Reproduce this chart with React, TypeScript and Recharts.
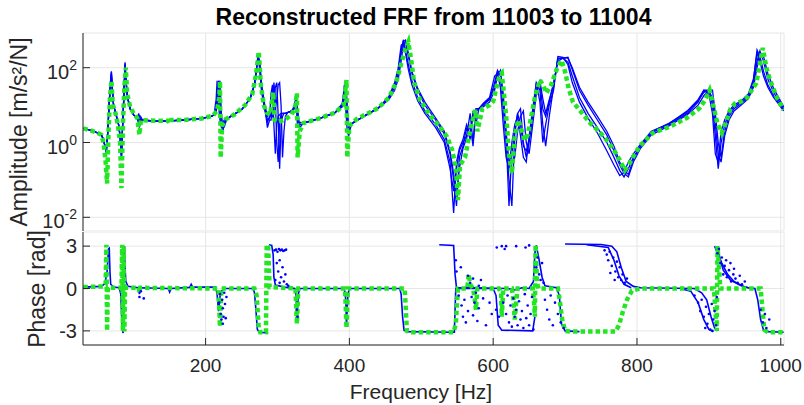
import React from "react";
import { CartesianGrid, ComposedChart, Line, Scatter, XAxis, YAxis } from "recharts";

const FONT = '"Liberation Sans", Arial, Helvetica, sans-serif';
const INK = "#262626";
const GRID = "#e6e6e6";
const BLUE = "#0000ff";
const GREEN = "#22e622";

// axes
const freqTicks = [200, 400, 600, 800, 1000];
const freqDomain = [29.5, 1004.5];
const ampTicks = [0.01, 1, 100];
const ampDomain = [0.0043, 848];
const phaseTicks = [-3, 0, 3];
const phaseDomain = [-4, 4];

// reconstructed FRF amplitude (green)
const freqGreen = [
  30, 40, 50, 55, 58, 61, 63, 65, 67, 69,
  71, 74, 78, 81, 83, 85, 87, 89, 91, 95,
  100, 105, 108, 110, 130, 148, 150, 152, 170, 195,
  210, 216, 219, 220, 221, 223, 228, 240, 255, 265,
  270, 274, 277, 281, 285, 290, 294, 296, 300, 310,
  320, 325, 327, 328, 331, 336, 360, 380, 392, 396,
  397, 400, 410, 440, 455, 465, 472, 478, 482, 486,
  490, 498, 512, 526, 536, 543, 548, 551, 554, 561,
  568, 575, 578, 585, 595, 600, 605, 609, 612, 615,
  619, 622, 626, 630, 635, 640, 644, 648, 652, 658,
  665, 670, 674, 680, 688, 692, 695, 700, 705, 711,
  723, 735, 747, 758, 768, 776, 783, 790, 797, 805,
  822, 845, 869, 887, 895, 901, 906, 912, 918, 925,
  930, 936, 945, 954, 961, 966, 970, 975, 980, 985,
  994, 1004,
];
const ampGreen = [
  2.4, 2.1, 1.8, 1.6, 1.0, 0.3, 0.08, 2, 16, 45,
  10, 7, 3, 1, 0.06, 3, 30, 100, 20, 9,
  6, 4.5, 1.6, 4, 3.8, 3.8, 3.2, 4, 4, 4.4,
  5.2, 7, 16, 43, 0.39, 2.8, 4.2, 5.6, 10, 20,
  63, 270, 32, 10, 6.3, 5.6, 22, 4, 3.5, 4,
  5.6, 10, 21, 0.4, 2, 3.3, 4.5, 6.3, 10, 47,
  0.4, 2.8, 4.2, 8.3, 16, 40, 126, 316, 490, 160,
  40, 14, 5.4, 2.6, 1.4, 0.63, 0.22, 0.029, 0.25, 0.41,
  2.1, 7.4, 2, 8, 10, 12.6, 32, 63, 72, 20,
  3.2, 0.5, 0.15, 1.6, 4, 2, 1.15, 1.6, 4, 16,
  47, 32, 21, 32, 87, 126, 158, 79, 28, 12,
  6.3, 3.3, 2, 1.15, 0.63, 0.34, 0.18, 0.28, 0.5, 0.85,
  1.8, 2.6, 4.5, 8.3, 14, 25, 10, 3.2, 1.8, 4,
  8, 11, 12.6, 16.6, 28, 39, 100, 340, 100, 47,
  16.6, 7.4,
];

// measured FRF amplitudes (blue)
const freqBlue = [
  30, 45, 55, 58, 60, 62, 64, 66, 68, 69,
  70, 72, 75, 79, 81, 83, 84, 86, 88, 89,
  91, 95, 100, 105, 107, 108, 110, 112, 130, 150,
  170, 195, 208, 212, 214, 216, 218, 220, 222, 224,
  226, 229, 235, 250, 262, 268, 271, 273, 275, 278,
  282, 286, 289, 291, 293, 295, 297, 299, 301, 303,
  305, 307, 309, 311, 314, 320, 324, 326, 328, 331,
  336, 360, 380, 390, 393, 395, 397, 399, 403, 420,
  440, 455, 463, 468, 472, 475, 478, 482, 487, 495,
  505, 520, 532, 540, 545, 549, 553, 558, 563, 568,
  572, 576, 580, 586, 595, 602, 606, 610, 614, 618,
  622, 626, 630, 634, 638, 642, 646, 650, 655, 660,
  665, 669, 673, 678, 684, 690, 697, 704, 710, 720,
  732, 745, 758, 768, 776, 782, 788, 795, 805, 820,
  845, 870, 885, 893, 900, 905, 909, 913, 917, 922,
  928, 935, 945, 955, 962, 967, 971, 976, 982, 990,
  1004,
];
const ampBlue1 = [
  2.4, 2.0, 1.6, 1.2, 0.8, 0.55, 2, 12, 50, 80,
  30, 10, 6, 3, 1.5, 0.4, 1.5, 12, 140, 60,
  18, 8, 5.5, 4.3, 5.5, 2.8, 4.5, 4, 3.7, 3.8,
  4, 4.4, 5, 5.5, 7, 20, 45, 8, 3, 2,
  3.5, 4.2, 5, 7.5, 15, 35, 100, 220, 120, 25,
  9, 3.5, 5, 20, 35, 3, 0.5, 3, 5, 5.5,
  6, 6, 6, 6, 6.3, 7, 9, 18, 3, 3,
  3.3, 4.5, 6.3, 10, 20, 40, 5, 2, 3.2, 5,
  8.3, 15, 30, 70, 250, 560, 300, 120, 45, 16,
  7, 3, 1.2, 0.3, 0.013, 0.3, 0.7, 1.2, 3, 1.5,
  6, 7, 8, 10, 14, 40, 85, 60, 8, 1,
  0.1, 0.02, 1.6, 6, 8, 1, 0.4, 1, 5, 40,
  25, 3, 0.8, 5, 30, 180, 180, 140, 60, 16,
  6, 2.5, 1, 0.4, 0.18, 0.12, 0.2, 0.4, 0.8, 1.8,
  3, 6, 12, 25, 25, 10, 1.5, 0.2, 1, 3,
  6, 9, 12, 18, 45, 300, 200, 80, 35, 18,
  7.5,
];
const ampBlue2 = [
  2.4, 2.0, 1.6, 1.2, 0.8, 0.6, 2, 12, 45, 70,
  35, 10, 6, 3, 1.5, 0.45, 1.5, 12, 120, 55,
  18, 8, 5.5, 4.3, 3.2, 5.5, 3.6, 4, 3.7, 3.8,
  4, 4.4, 5, 5.5, 8, 45, 10, 4, 2.5, 3.5,
  4, 4.3, 5, 7.5, 15, 35, 100, 200, 150, 30,
  10, 2.5, 4, 4, 8, 40, 15, 1, 0.3, 4,
  5.5, 6, 6, 6, 6.3, 7, 8, 12, 8, 2.5,
  3.3, 4.5, 6.3, 9, 35, 8, 2, 1.5, 3.2, 5,
  8.3, 17, 40, 100, 400, 450, 250, 90, 35, 13,
  6, 2.5, 1, 0.2, 0.05, 0.2, 0.6, 1, 1.5, 6,
  1, 8, 8, 9, 12, 25, 60, 85, 20, 2,
  0.3, 0.3, 0.4, 2, 5, 7, 1, 0.5, 3, 20,
  40, 8, 5, 12, 40, 150, 180, 190, 90, 25,
  10, 4, 1.6, 0.6, 0.25, 0.15, 0.12, 0.3, 0.7, 1.6,
  2.8, 5.5, 10, 18, 25, 25, 6, 1, 0.4, 2,
  5, 8, 11, 16, 35, 150, 280, 150, 50, 22,
  8,
];
const ampBlue3 = [
  2.4, 2.0, 1.6, 1.2, 0.8, 0.5, 2, 12, 40, 60,
  30, 10, 6, 3, 1.5, 0.35, 1.5, 12, 100, 50,
  18, 8, 5.5, 4.3, 6, 2.5, 4.8, 4, 3.7, 3.8,
  4, 4.4, 5, 5.5, 12, 12, 40, 15, 3, 2.2,
  3.2, 4.1, 5, 7.5, 15, 35, 100, 230, 100, 22,
  8, 4, 4.5, 6, 5, 8, 30, 40, 5, 0.2,
  3, 5, 6, 6, 6.3, 7, 10, 16, 2.5, 3.5,
  3.3, 4.5, 6.3, 10, 15, 45, 10, 2.5, 3.2, 5,
  8.3, 14, 25, 50, 150, 400, 500, 200, 70, 25,
  10, 4, 1.7, 0.5, 0.1, 0.02, 0.4, 0.8, 2.5, 1.2,
  7, 3, 8, 11, 16, 60, 70, 30, 3, 0.4,
  0.2, 1, 3, 5, 1.5, 0.4, 0.3, 1.5, 8, 40,
  12, 1, 3, 10, 25, 200, 190, 120, 40, 12,
  4.5, 1.8, 0.6, 0.25, 0.13, 0.16, 0.3, 0.5, 0.9, 2,
  3.2, 7, 14, 25, 20, 6, 0.5, 0.3, 2, 4,
  7, 10, 13, 20, 50, 250, 150, 60, 30, 16,
  7,
];
const ampBlue4 = [
  2.4, 2.0, 1.6, 1.2, 0.8, 0.7, 2, 12, 50, 75,
  32, 10, 6, 3, 1.5, 0.5, 1.5, 12, 130, 60,
  18, 8, 5.5, 4.3, 3.5, 5, 3.8, 4, 3.7, 3.8,
  4, 4.4, 5, 5.5, 6, 9, 25, 45, 6, 2.5,
  2.6, 4, 5, 7.5, 15, 35, 100, 180, 160, 35,
  11, 5, 5.5, 5, 5.5, 6, 8, 14, 35, 40,
  10, 0.4, 2, 5, 6.3, 7, 9, 20, 4, 3,
  3.3, 4.5, 6.3, 11, 25, 12, 3, 3, 3.2, 5,
  8.3, 16, 35, 80, 300, 500, 550, 250, 80, 28,
  12, 4.5, 2, 0.6, 0.15, 0.04, 0.2, 0.7, 1.3, 3,
  0.8, 7, 8, 10, 15, 30, 80, 70, 12, 1.5,
  0.02, 0.5, 2, 6, 3, 0.8, 0.6, 1.2, 6, 25,
  45, 15, 6, 14, 35, 170, 185, 180, 100, 30,
  12, 5, 2, 0.8, 0.3, 0.18, 0.14, 0.35, 0.8, 1.9,
  3.3, 6.5, 13, 22, 25, 15, 3, 0.5, 0.3, 1.5,
  4, 7, 10, 15, 30, 100, 250, 200, 70, 28,
  9,
];

// reconstructed phase (green)
const phaseGreenFreq = [
  30, 58, 61, 62, 63, 64, 83, 84, 85, 86,
  87, 88, 107, 108, 109, 218, 220, 222, 268, 271,
  274, 276, 284, 285, 287, 289, 325, 327, 329, 394,
  396, 398, 477, 480, 483, 545, 548, 551, 564, 566,
  568, 572, 574, 576, 578, 608, 611, 612, 614, 626,
  628, 630, 632, 634, 655, 657, 658, 659, 661, 663,
  690, 693, 696, 700, 707, 770, 775, 780, 786, 793,
  804, 907, 909, 911, 912, 914, 916, 972, 974, 977,
  982, 1004,
];
const phaseGreen = [
  0.1, 0.15, 0.3, 3.1, -3.0, 0.05, 0.05, 3.1, -3.0, 3.0,
  -3.05, 0.05, 0.05, -0.3, 0.05, 0, -2.7, 0, 0, -0.5,
  -2.8, -3.1, -3.1, 3.1, 3.0, 0.1, 0, -2.5, 0, 0,
  -2.8, 0, 0, -3.0, -3.1, -3.1, -2.5, 0, 0, 1.0,
  0.3, 0, -0.6, -1.5, 0, 0, -0.3, -2.0, 0, 0,
  -0.7, -2.2, -1.0, 0, 0, -1.0, -2.0, 3.1, 0.4, 0,
  0, -1.0, -2.2, -3.0, -3.05, -3.05, -2.6, -1.7, -0.8, -0.15,
  0, 0, -1.5, -3.0, 3.0, 1.5, 0, 0, -1.2, -2.9,
  -3.1, -3.1,
];

// measured phase (blue), dense tracks; null = wrap break
const phaseBlueAFreq = [
  30, 55, 60, 63, 65, 66, 67, 68, 72, 80,
  82, 84, 85, 86, 86.5, 87, 88, 89, 92, 106,
  108, 110, 148, 150, 152, 178, 180, 182, 214, 216,
  218, 220, 222, 226, 266, 268, 270, 272, 275, 287,
  287.5, 288, 292, 294, 295, 297, 310, 324, 326, 327,
  329, 331, 393, 395, 396, 398, 400, 470, 472, 474,
  476, 480, 546, 547, 548, 575, 600, 604, 607, 612,
  655, 658,
];
const phaseBlueA = [
  0.1, 0.15, 0.35, 1.2, 2.8, 2.85, 1.2, 0.3, 0.1, 0.05,
  -0.4, -2.8, -3.1, -3.15, null, 3.0, 1.5, 0.5, 0.15, 0.05,
  -0.4, 0.05, 0, -0.25, 0, 0.08, 0.3, 0.1, 0.1, -0.4,
  -1.6, -0.6, -0.2, 0, 0, -0.3, -1.5, -2.9, -3.1, -3.15,
  null, 3.1, 3.05, 2.4, 0.8, 0.25, 0.1, 0, -0.5, -2.3,
  -0.4, 0, 0, -0.8, -2.6, -0.4, 0, 0, -0.4, -2.0,
  -2.95, -3.05, -3.1, -1.5, 0, 0, 0, -0.5, -2.6, -2.95,
  -3.0, -2.0,
];
const phaseBlueBFreq = [
  525, 545, 547, 549, 580, 600, 620, 630, 640, 650,
  656, 658, 660, 664, 668, 672, 688, 692, 695, 700,
  720,
];
const phaseBlueB = [
  3.1, 3.05, 1.0, 0.05, 0.05, 0.02, 0, -0.1, 0.05, 0,
  0.5, 2.5, 3.05, 2.0, 0.8, 0.2, 0.05, -0.5, -2.5, -3.0,
  -3.05,
];
const phaseBlueCFreq = [
  730, 760, 768, 775, 782, 792, 800, 860, 875, 885,
  893, 900, 906, 906.5, 908, 912, 918, 926, 935, 950,
  960,
];
const phaseBlueC = [
  3.1, 2.9, 2.0, 0.9, 0.3, 0.05, null, 0, -0.2, -1.0,
  -2.2, -2.9, -3.05, null, 3.0, 2.5, 1.8, 1.0, 0.5, 0.1,
  0,
];
const phaseBlueDFreq = [
  700, 750, 765, 772, 778, 785, 795, 805, 880, 890,
  897, 903, 908, 912, 912.5, 913, 915, 920, 930, 945,
  955, 964, 968, 972, 976, 982, 1004,
];
const phaseBlueD = [
  3.15, 3.12, 3.0, 2.6, 1.5, 0.5, 0.15, 0.05, 0, -0.3,
  -0.8, -2.0, -2.8, -3.0, null, 3.0, 2.2, 1.3, 0.6, 0.2,
  0.05, 0, -0.8, -2.2, -2.95, -3.05, -3.1,
];

// scattered phase samples (blue dots)
const noiseFreq = [
  219, 221, 222, 223, 224, 225, 226, 227, 228, 229, 224, 220,
  296, 298, 300, 302, 304, 306, 308, 310, 312, 299, 301, 303, 305, 307, 309, 311, 313, 315, 297, 303,
  327, 328, 108, 110, 114,
  548, 549, 552, 556, 558, 560, 562, 565, 568, 570, 572, 574, 576, 578, 580, 583, 586, 590, 555, 565, 572, 580, 595, 598,
  604, 608, 612, 614, 616, 618, 620, 622, 624, 626, 628, 630, 632, 634, 636, 638, 640, 642, 644, 646, 648, 650, 652, 654, 656,
  660, 662, 664, 666, 668, 670, 672, 675, 678, 680, 683, 686, 690, 694, 698, 605, 618, 632, 645, 650,
  755, 758, 760, 762, 765, 767, 770, 772, 774, 776, 778, 780, 783, 786, 763, 769,
  880, 885, 888, 890, 893, 896, 898, 900, 902, 904, 906, 908, 910, 911, 895, 905,
  912, 914, 916, 918, 920, 922, 925, 928, 931, 934, 937, 940, 943, 946, 950, 924, 930, 935,
  972, 975, 978, 980, 984,
];
const noisePhase = [
  -1.0, -1.8, -2.2, -0.8, -1.4, -2.0, -0.3, -1.1, -2.1, -0.6, -2.5, -0.4,
  2.7, 2.75, 2.6, 2.8, 2.7, 2.75, 2.65, 2.7, 2.75, 1.8, 1.2, 2.0, 0.8, 1.5, 0.5, 1.0, 0.3, 0.2, 0.6, 0.4,
  -1.5, -2.0, -0.6, -0.2, -0.7,
  2.0, 1.2, -0.5, -1.2, -2.0, -0.8, -2.4, -1.6, 0.4, -0.6, -1.9, -1.0, -0.3, -2.3, -1.4, 0.6, -0.7, -2.6, 1.5, 0.9, 0.7, 0.2, -1.0, -1.8,
  -1.5, -2.0, 3.0, -1.0, 2.8, -1.8, -0.5, -2.4, -1.2, -2.7, -0.7, -2.0, -1.5, -2.6, -0.9, -2.2, -1.6, -2.8, -0.4, -2.1, -1.2, -2.6, -1.8, -0.6, -2.9,
  1.5, 2.2, 1.0, 0.6, 1.8, 0.4, -0.8, -1.5, -2.2, -0.5, -2.6, -1.0, -1.8, -2.4, -2.8, 2.9, 3.0, 3.0, 2.9, 3.05,
  2.7, 2.4, 2.0, 2.6, 1.6, 2.2, 1.2, 1.9, 0.8, 1.5, 0.6, 1.0, 0.4, 0.7, 1.1, 0.6,
  -0.5, -1.0, -1.6, -0.8, -2.0, -1.3, -2.5, -1.8, -2.9, -1.1, -2.2, -1.6, -2.6, -0.6, -2.8, -3.0,
  2.5, 2.8, 1.8, 2.2, 1.0, 1.6, 0.8, 1.3, 0.5, 1.0, 0.7, 0.4, 0.9, 0.3, 0.5, 2.0, 1.8, 1.4,
  -1.5, -2.4, -1.8, -2.8, -2.2,
];

const pts = (fs: number[], vs: (number | null)[]) => fs.map((f, i) => ({ f, v: vs[i] }));

const blueAmpSeries = [ampBlue1, ampBlue2, ampBlue3, ampBlue4].map((a) => pts(freqBlue, a));
const greenAmp = pts(freqGreen, ampGreen);
const bluePhaseSeries = [
  pts(phaseBlueAFreq, phaseBlueA),
  pts(phaseBlueBFreq, phaseBlueB),
  pts(phaseBlueCFreq, phaseBlueC),
  pts(phaseBlueDFreq, phaseBlueD),
];
const greenPhase = pts(phaseGreenFreq, phaseGreen);
const noise = pts(noiseFreq, noisePhase);

function PowTick({ x, y, payload }: any) {
  const exp = Math.round(Math.log10(payload.value));
  return (
    <text x={x} y={y + 11} textAnchor="end" fill={INK} fontSize={20}>
      10
      <tspan dy={-9} fontSize={14}>
        {exp}
      </tspan>
    </text>
  );
}

const NoTick = () => <g />;

const dotShape = (p: any) => <circle cx={p.cx} cy={p.cy} r={1.3} fill={BLUE} />;

const axisLine = { stroke: INK, strokeWidth: 1 };

export default function App() {
  return (
    <div
      style={{
        position: "absolute",
        left: 0,
        top: 0,
        width: 804,
        height: 405,
        background: "#fff",
        fontFamily: FONT,
      }}
    >
      <div style={{ position: "absolute", left: 0, top: 0 }}>
        <ComposedChart width={804} height={232} margin={{ top: 33, right: 20, bottom: 1, left: 13 }}>
          <CartesianGrid stroke={GRID} />
          <XAxis
            type="number"
            dataKey="f"
            domain={freqDomain}
            ticks={freqTicks}
            height={0}
            tickSize={-7}
            tick={NoTick}
            axisLine={axisLine}
            tickLine={axisLine}
            allowDataOverflow
          />
          <XAxis
            xAxisId="top"
            orientation="top"
            type="number"
            dataKey="f"
            domain={freqDomain}
            ticks={freqTicks}
            height={0}
            tickSize={-7}
            tick={NoTick}
            axisLine={axisLine}
            tickLine={axisLine}
            allowDataOverflow
          />
          <YAxis
            scale="log"
            type="number"
            dataKey="v"
            domain={ampDomain}
            ticks={ampTicks}
            width={70}
            tickSize={-7}
            tickMargin={13}
            tick={PowTick}
            axisLine={axisLine}
            tickLine={axisLine}
            allowDataOverflow
          />
          <YAxis
            yAxisId="right"
            orientation="right"
            scale="log"
            type="number"
            domain={ampDomain}
            ticks={ampTicks}
            width={0}
            tickSize={-7}
            tick={NoTick}
            axisLine={axisLine}
            tickLine={axisLine}
            allowDataOverflow
          />
          {blueAmpSeries.map((d, i) => (
            <Line
              key={i}
              data={d}
              dataKey="v"
              type="linear"
              stroke={BLUE}
              strokeWidth={1.3}
              dot={false}
              isAnimationActive={false}
            />
          ))}
          <Line
            data={greenAmp}
            dataKey="v"
            type="linear"
            stroke={GREEN}
            strokeWidth={4.5}
            strokeDasharray="4.5 3"
            dot={false}
            isAnimationActive={false}
          />
        </ComposedChart>
      </div>
      <div style={{ position: "absolute", left: 0, top: 232 }}>
        <ComposedChart width={804} height={173} margin={{ top: 0, right: 20, bottom: 0, left: 13 }}>
          <CartesianGrid stroke={GRID} />
          <XAxis
            type="number"
            dataKey="f"
            domain={freqDomain}
            ticks={freqTicks}
            height={60}
            tickSize={-7}
            tickMargin={21}
            tick={{ fill: INK, fontSize: 19 }}
            axisLine={axisLine}
            tickLine={axisLine}
            allowDataOverflow
          />
          <XAxis
            xAxisId="top"
            orientation="top"
            type="number"
            dataKey="f"
            domain={freqDomain}
            ticks={freqTicks}
            height={0}
            tickSize={-7}
            tick={NoTick}
            axisLine={axisLine}
            tickLine={axisLine}
            allowDataOverflow
          />
          <YAxis
            type="number"
            dataKey="v"
            domain={phaseDomain}
            ticks={phaseTicks}
            width={70}
            tickSize={-7}
            tickMargin={13}
            tick={{ fill: INK, fontSize: 20 }}
            axisLine={axisLine}
            tickLine={axisLine}
            allowDataOverflow
          />
          <YAxis
            yAxisId="right"
            orientation="right"
            type="number"
            domain={phaseDomain}
            ticks={phaseTicks}
            width={0}
            tickSize={-7}
            tick={NoTick}
            axisLine={axisLine}
            tickLine={axisLine}
            allowDataOverflow
          />
          {bluePhaseSeries.map((d, i) => (
            <Line
              key={i}
              data={d}
              dataKey="v"
              type="linear"
              stroke={BLUE}
              strokeWidth={1.6}
              dot={false}
              isAnimationActive={false}
            />
          ))}
          <Scatter data={noise} dataKey="v" shape={dotShape} isAnimationActive={false} />
          <Line
            data={greenPhase}
            dataKey="v"
            type="linear"
            stroke={GREEN}
            strokeWidth={4.5}
            strokeDasharray="4.5 3"
            dot={false}
            isAnimationActive={false}
          />
        </ComposedChart>
      </div>
      <svg
        width={804}
        height={405}
        style={{ position: "absolute", left: 0, top: 0, pointerEvents: "none" }}
      >
        <text x={433.5} y={25} textAnchor="middle" fontSize={23} fontWeight="bold" fill="#000">
          Reconstructed FRF from 11003 to 11004
        </text>
        <text x={421} y={399} textAnchor="middle" fontSize={21} fill={INK}>
          Frequency [Hz]
        </text>
        <text transform="translate(27,132) rotate(-90)" textAnchor="middle" fontSize={23} fill={INK}>
          Amplitude [m/s²/N]
        </text>
        <text transform="translate(45,289) rotate(-90)" textAnchor="middle" fontSize={23} fill={INK}>
          Phase [rad]
        </text>
      </svg>
    </div>
  );
}
